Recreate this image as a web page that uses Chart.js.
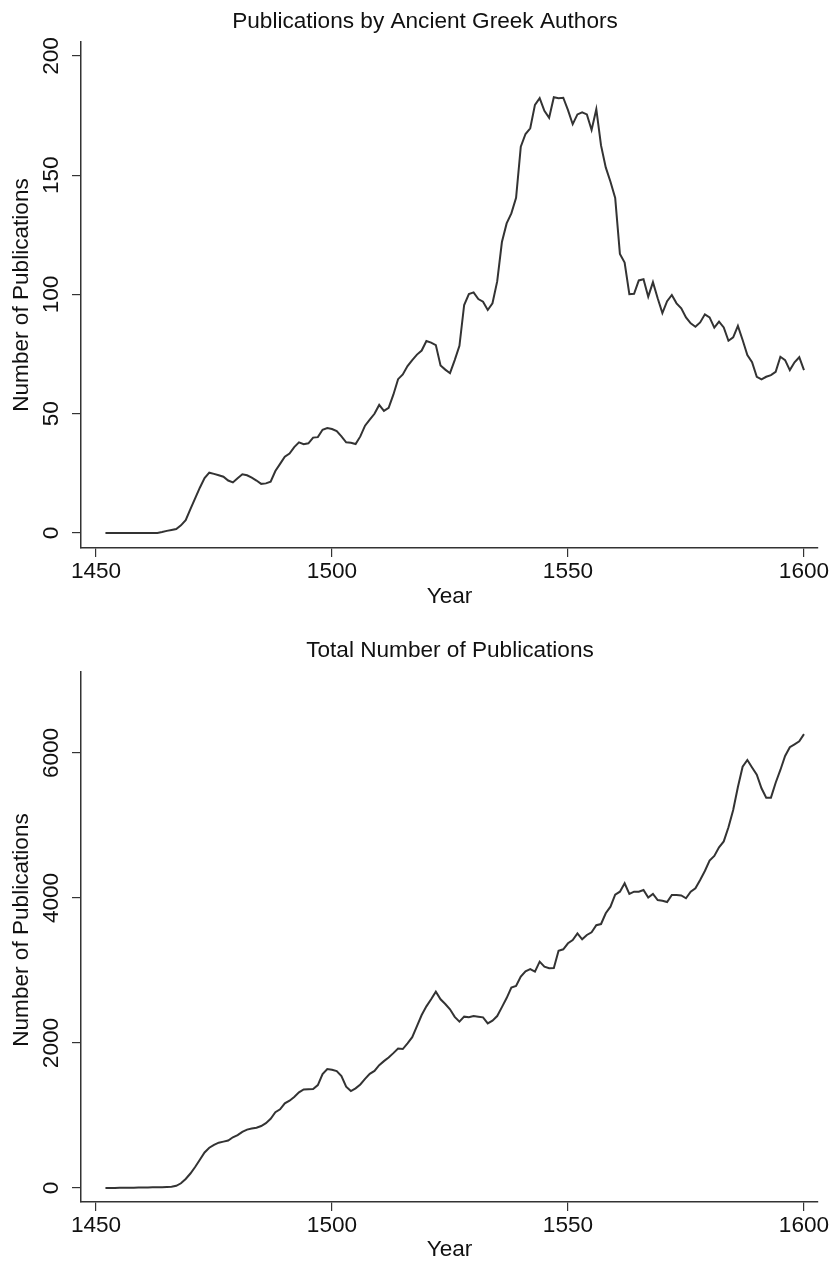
<!DOCTYPE html>
<html>
<head>
<meta charset="utf-8">
<script src="https://cdn.jsdelivr.net/npm/chart.js@4.4.1/dist/chart.umd.min.js"></script>
<style>
  html, body { margin: 0; padding: 0; background: #fff; }
  #wrap { position: relative; width: 831px; height: 1263px; }
  canvas { position: absolute; left: 0; }
  #greek { top: 0; }
  #total { top: 610px; }
</style>
</head>
<body>
<div id="wrap">
  <canvas id="greek" width="831" height="610"></canvas>
  <canvas id="total" width="831" height="653"></canvas>
</div>
<script>
// yearly series
const years = [];
for (let y = 1452; y <= 1600; y++) years.push(y);

const greekPubs = [
  0, 0, 0, 0, 0, 0, 0, 0, 0, 0, 0, 0,            // 1452-1463
  0.4, 0.9, 1.3, 1.7, 3.2, 5.4, 10, 14.5, 19, 23, // 1464-1473
  25.3, 24.8, 24.2, 23.6, 22, 21.2, 23, 24.6, 24.2, 23.2, // 1474-1483
  22, 20.6, 20.8, 21.5, 26, 29, 32, 33.3, 36, 38,  // 1484-1493
  37.2, 37.6, 40, 40.2, 43.3, 44, 43.6, 42.7, 40.5, 38, // 1494-1503
  37.8, 37.3, 40.5, 45, 47.5, 50, 53.7, 51.2, 52.5, 58, // 1504-1513
  64.5, 66.5, 70, 72.5, 74.8, 76.5, 80.5, 79.8, 78.8, 70.2, // 1514-1523
  68.5, 67, 72.5, 78.5, 95.6, 100.2, 100.9, 98.1, 97, 93.5, // 1524-1533
  96.3, 105.5, 122, 129.8, 134, 140.5, 162, 167.3, 169.7, 179.5, // 1534-1543
  182.3, 177, 174.1, 182.7, 182.3, 182.5, 177.3, 171.4, 175.5, 176.4, // 1544-1553
  175.5, 169, 177.7, 162.5, 153.3, 147.3, 140.5, 117, 113.4, 100.1, // 1554-1563
  100.3, 105.9, 106.4, 99.1, 105.2, 98.4, 92.2, 97.2, 99.8, 96.3, // 1564-1573
  94.2, 90.4, 87.9, 86.5, 88.3, 91.7, 90.4, 86.1, 88.6, 86.2, // 1574-1583
  80.6, 82, 86.8, 80.9, 74.6, 71.6, 65.5, 64.4, 65.5, 66.2, // 1584-1593
  67.6, 73.9, 72.5, 68.3, 71.6, 73.7, 68.3                 // 1594-1600
];

const totalPubs = [
  0, 0, 0, 2, 3, 4, 5, 6, 7, 8, 9, 10, 12, 15,    // 1452-1465
  18, 30, 65, 125, 200, 290, 390, 490, 555, 595,   // 1466-1475
  625, 640, 655, 700, 730, 775, 805, 820, 832, 855, // 1476-1485
  895, 955, 1045, 1085, 1168, 1204, 1255, 1320, 1360, 1363, // 1486-1495
  1366, 1420, 1570, 1641, 1630, 1612, 1545, 1397, 1338, 1375, // 1496-1505
  1428, 1505, 1575, 1615, 1695, 1750, 1800, 1860, 1925, 1917, // 1506-1515
  1995, 2080, 2234, 2386, 2505, 2603, 2708, 2603, 2538, 2465, // 1516-1525
  2360, 2294, 2363, 2354, 2372, 2363, 2354, 2271, 2308, 2372, // 1526-1535
  2495, 2620, 2765, 2786, 2915, 2990, 3018, 2984, 3122, 3052, // 1536-1545
  3032, 3035, 3273, 3292, 3375, 3421, 3513, 3430, 3490, 3527, // 1546-1555
  3625, 3641, 3789, 3880, 4045, 4087, 4203, 4055, 4087, 4087, // 1556-1565
  4110, 4005, 4055, 3972, 3963, 3945, 4041, 4041, 4036, 3996, // 1566-1575
  4087, 4133, 4248, 4372, 4515, 4579, 4699, 4780, 4975, 5215, // 1576-1585
  5530, 5811, 5903, 5800, 5700, 5513, 5384, 5384, 5590, 5766, // 1586-1595
  5959, 6080, 6120, 6160, 6260                             // 1596-1600
];

const yearTicks = [1450, 1500, 1550, 1600];
const greekTicks = [0, 50, 100, 150, 200];
const totalTicks = [0, 2000, 4000, 6000];

const FONT = '"Liberation Sans", Arial, Helvetica, sans-serif';
const INK = '#333333';

// draws titles and rotated y tick labels at the scale's own pixel positions
const stataText = {
  id: 'stataText',
  afterDraw(chart, args, o) {
    const ctx = chart.ctx;
    const xs = chart.scales.x, ys = chart.scales.y;
    ctx.save();
    ctx.fillStyle = '#111';
    ctx.font = '22.6px ' + FONT;
    ctx.textAlign = 'center';
    ctx.textBaseline = 'middle';
    ctx.fillText(o.title, o.titleX, o.titleY);
    o.xTicks.forEach(v => ctx.fillText(String(v), xs.getPixelForValue(v), o.xLabelY));
    ctx.fillText(o.xTitle, (chart.chartArea.left + chart.chartArea.right) / 2, o.xTitleY);
    o.yTicks.forEach(v => {
      ctx.save();
      ctx.translate(o.yLabelX, ys.getPixelForValue(v));
      ctx.rotate(-Math.PI / 2);
      ctx.fillText(String(v), 0, 0);
      ctx.restore();
    });
    ctx.save();
    ctx.translate(o.yTitleX, o.yTitleY);
    ctx.rotate(-Math.PI / 2);
    ctx.fillText(o.yTitle, 0, 0);
    ctx.restore();
    ctx.restore();
  }
};

function makeChart(id, values, yTicks, yMin, yMax, pad, text) {
  return new Chart(document.getElementById(id), {
    type: 'line',
    data: {
      datasets: [{
        data: years.map((yr, i) => ({x: yr, y: values[i]})),
        borderColor: INK,
        borderWidth: 2,
        pointRadius: 0,
        tension: 0,
        fill: false
      }]
    },
    options: {
      responsive: false,
      animation: false,
      layout: {padding: pad},
      plugins: {
        legend: {display: false},
        tooltip: {enabled: false},
        title: {display: false},
        stataText: text
      },
      scales: {
        x: {
          type: 'linear',
          min: 1446.82,
          max: 1602.97,
          afterBuildTicks: s => { s.ticks = yearTicks.map(v => ({value: v})); },
          afterFit: s => { s.height = 0; },
          ticks: {display: false},
          grid: {display: true, drawOnChartArea: false, drawTicks: true, tickLength: 9, color: INK, lineWidth: 1.2},
          border: {display: true, color: INK, width: 1.5}
        },
        y: {
          type: 'linear',
          min: yMin,
          max: yMax,
          afterBuildTicks: s => { s.ticks = yTicks.map(v => ({value: v})); },
          afterFit: s => { s.width = 0; },
          ticks: {display: false},
          grid: {display: true, drawOnChartArea: false, drawTicks: true, tickLength: 9, color: INK, lineWidth: 1.2},
          border: {display: true, color: INK, width: 1.5}
        }
      }
    },
    plugins: [stataText]
  });
}

makeChart('greek', greekPubs, greekTicks, -6.29, 205.87,
  {left: 81, top: 42, right: 13, bottom: 62},
  {title: 'Publications by Ancient Greek Authors', titleX: 425, titleY: 22,
   xTicks: yearTicks, xLabelY: 572, xTitle: 'Year', xTitleY: 597,
   yTicks: greekTicks, yLabelX: 52, yTitle: 'Number of Publications', yTitleX: 22, yTitleY: 295});

makeChart('total', totalPubs, totalTicks, -193, 7117,
  {left: 81, top: 62, right: 13, bottom: 61},
  {title: 'Total Number of Publications', titleX: 450, titleY: 41,
   xTicks: yearTicks, xLabelY: 615.5, xTitle: 'Year', xTitleY: 640,
   yTicks: totalTicks, yLabelX: 52, yTitle: 'Number of Publications', yTitleX: 22, yTitleY: 320});
</script>
</body>
</html>
